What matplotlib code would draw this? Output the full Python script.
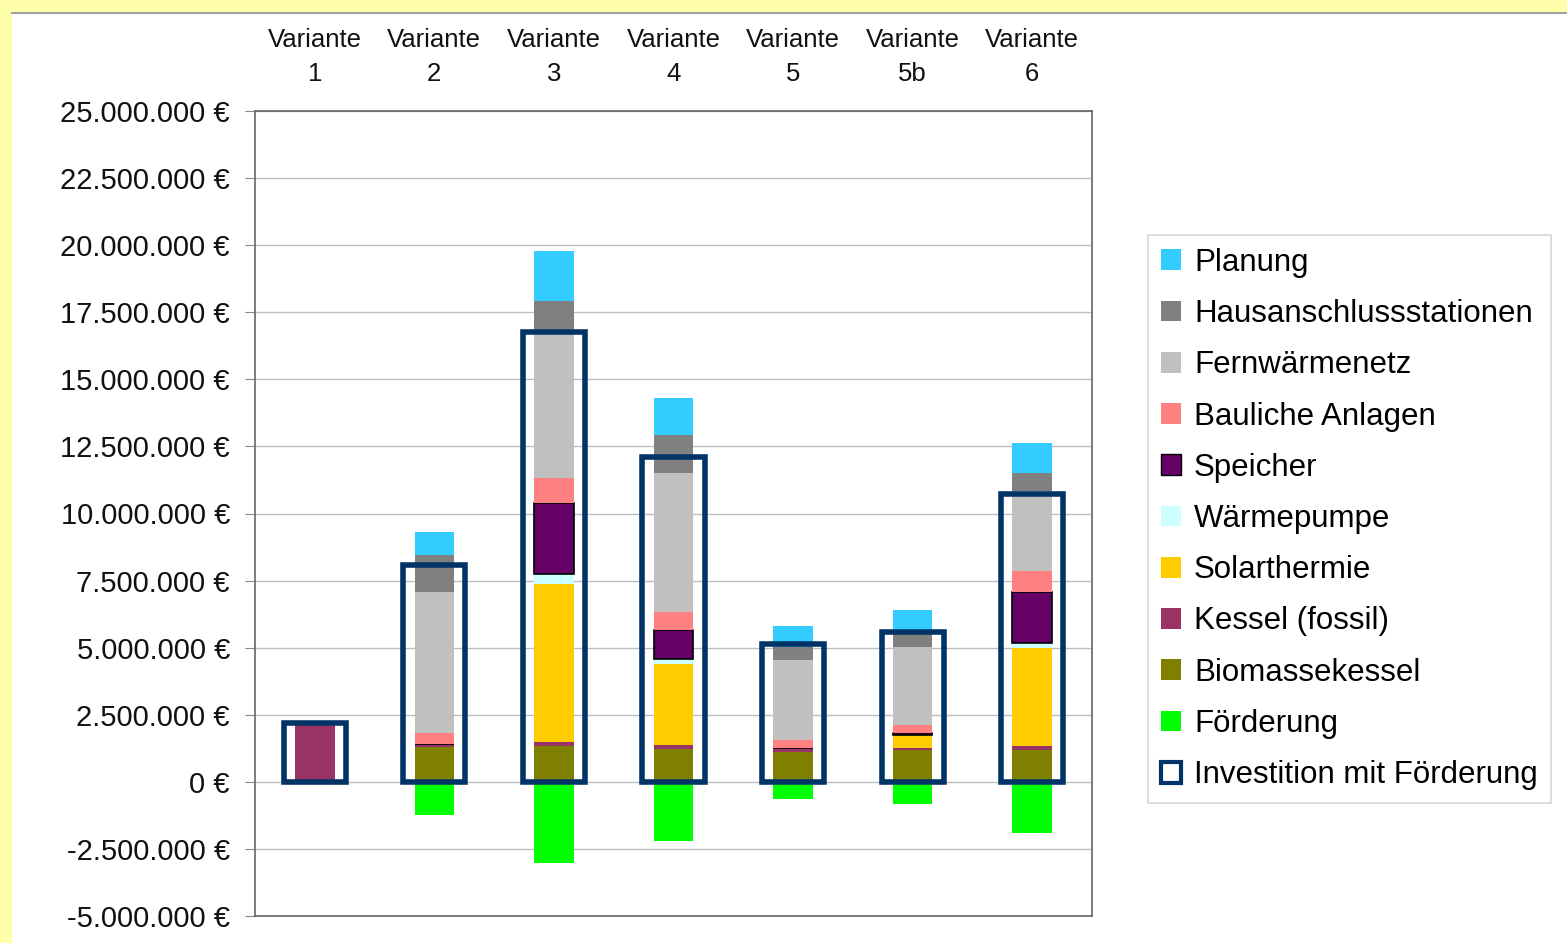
import numpy as np
import matplotlib.pyplot as plt
from matplotlib.patches import Patch, Rectangle
from matplotlib.lines import Line2D
from matplotlib.ticker import FuncFormatter, MultipleLocator

plt.rcParams['font.family'] = ['Liberation Sans', 'DejaVu Sans']

## data (Mio. EUR)
varianten = ['Variante\n1', 'Variante\n2', 'Variante\n3', 'Variante\n4',
             'Variante\n5', 'Variante\n5b', 'Variante\n6']

biomassekessel = [0.0, 1.30, 1.35, 1.24, 1.13, 1.17, 1.17]
kessel_fossil = [2.20, 0.10, 0.15, 0.12, 0.13, 0.09, 0.15]
solarthermie = [0.0, 0.0, 5.88, 3.04, 0.0, 0.48, 3.66]
waermepumpe = [0.0, 0.0, 0.37, 0.19, 0.0, 0.0, 0.20]
speicher = [0.0, 0.0, 2.65, 1.05, 0.0, 0.07, 1.91]
bauliche_anlagen = [0.0, 0.43, 0.93, 0.68, 0.30, 0.31, 0.75]
fernwaermenetz = [0.0, 5.25, 5.45, 5.20, 2.99, 2.92, 2.98]
hausanschluss = [0.0, 1.38, 1.14, 1.42, 0.49, 0.50, 0.68]
planung = [0.0, 0.85, 1.88, 1.36, 0.75, 0.87, 1.14]
foerderung = [0.0, -1.23, -3.02, -2.20, -0.64, -0.82, -1.91]

stack = [
    ('Biomassekessel', biomassekessel, '#808000'),
    ('Kessel (fossil)', kessel_fossil, '#993366'),
    ('Solarthermie', solarthermie, '#FFCC00'),
    ('Wärmepumpe', waermepumpe, '#CCFFFF'),
    ('Speicher', speicher, '#660066'),
    ('Bauliche Anlagen', bauliche_anlagen, '#FF8080'),
    ('Fernwärmenetz', fernwaermenetz, '#C0C0C0'),
    ('Hausanschlussstationen', hausanschluss, '#808080'),
    ('Planung', planung, '#33CCFF'),
]
col_foerd = '#00FF00'
col_box = '#003366'

fig = plt.figure(figsize=(15.67, 9.43), dpi=100, facecolor='#FFFFAA')
# white panel with grey top line
fig.patches.append(Rectangle((12/1567, 0), 1, 1 - 13/943, transform=fig.transFigure,
                             facecolor='white', edgecolor='none', zorder=-10))
fig.add_artist(Line2D([12/1567, 1], [1 - 13/943, 1 - 13/943], color='#A0A0A0', lw=1.5))

ax = fig.add_axes([255/1567, 1 - 916/943, (1092 - 255)/1567, (916 - 111)/943])
ax.set_facecolor('white')

x = np.arange(len(varianten))
scale = 1e6
bw = 0.33
bottom = np.zeros(len(x))
for name, vals, col in stack:
    v = np.array(vals) * scale
    if name == 'Speicher':
        ax.bar(x, v, bw, bottom=bottom, color=col, edgecolor='black', linewidth=1.2, zorder=3)
    else:
        ax.bar(x, v, bw, bottom=bottom, color=col, linewidth=0, zorder=3)
    bottom += v

ax.bar(x, np.array(foerderung) * scale, bw, color=col_foerd, linewidth=0, zorder=3)

# Investition mit Foerderung = Summe + Foerderung
invest = bottom + np.array(foerderung) * scale
ax.bar(x, invest, 0.52, fill=False, edgecolor=col_box, linewidth=4, zorder=4)

ax.set_xlim(-0.5, 6.5)
ax.set_ylim(-5e6, 25e6)
ax.yaxis.set_major_locator(MultipleLocator(2.5e6))
ax.yaxis.set_major_formatter(FuncFormatter(
    lambda v, p: f"{int(round(v)):,}".replace(',', '.') + ' €'))
ax.grid(axis='y', color='#BDBDBD', linewidth=1)
ax.set_axisbelow(True)
ax.tick_params(axis='y', labelsize=21, length=7, color='#888888', pad=11, labelcolor='#111111')

ax.xaxis.tick_top()
ax.set_xticks(x)
ax.set_xticklabels(varianten, fontsize=18.5, linespacing=1.55, color='#111111')
ax.tick_params(axis='x', length=0, pad=18)

for s in ax.spines.values():
    s.set_color('#666666')
    s.set_linewidth(1.2)

handles = [Patch(facecolor=c, edgecolor='none', label=n) for n, _, c in stack[::-1]]
handles[4] = Patch(facecolor='#660066', edgecolor='black', label='Speicher')
handles.append(Patch(facecolor=col_foerd, edgecolor='none', label='Förderung'))
handles.append(Patch(facecolor='white', edgecolor=col_box, linewidth=3, label='Investition mit Förderung'))
leg = fig.legend(handles=handles, loc='center left', bbox_to_anchor=(1148/1567, 1 - 519/943),
                 fontsize=22.5, frameon=True, fancybox=False, handlelength=0.65, handleheight=0.65,
                 handletextpad=0.4, labelspacing=0.68, borderpad=0.42, borderaxespad=0)
leg.get_frame().set_edgecolor('#CCCCCC')
leg.get_frame().set_linewidth(1.2)

fig.savefig('out.png', dpi=100, facecolor=fig.get_facecolor())
